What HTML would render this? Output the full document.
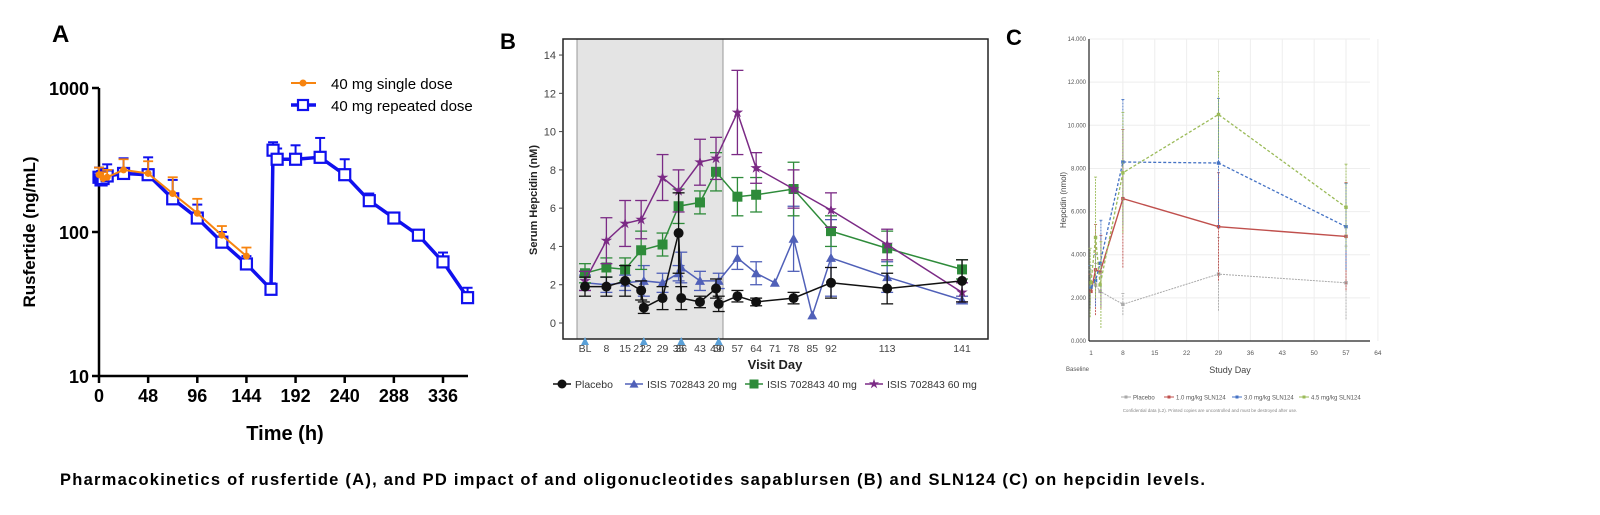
<!DOCTYPE html>
<html><head><meta charset="utf-8">
<style>
html,body{margin:0;padding:0;background:#fff;}
svg{display:block;font-family:"Liberation Sans",Arial,sans-serif;}
</style></head>
<body>
<svg id="fig" width="1600" height="515" viewBox="0 0 1600 515" xmlns="http://www.w3.org/2000/svg">
<g id="pa"></g>
<g id="pb"></g>
<g id="pc"></g>
<text x="60" y="485" font-size="16.5" font-weight="bold" fill="#000" textLength="1145" lengthAdjust="spacing">Pharmacokinetics of rusfertide (A), and PD impact of and oligonucleotides sapablursen (B) and SLN124 (C) on hepcidin levels.</text>
</svg>
<script>
// ---------- Panel A data ----------
const aTicksX = [0,48,96,144,192,240,288,336];
const aTicksY = [10,100,1000];
const aRepT = [0,2,4,8,24,48,72,96,120,144,168,170,174,192,216,240,264,288,312,336,360];
const aRepV = [240,230,235,245,255,250,170,125,85,60,40,370,320,320,330,250,165,125,95,62,35];
const aRepErr = [40,35,40,50,70,80,60,30,15,8,4,50,60,80,120,70,20,10,8,10,6];
const aSinT = [0,4,8,24,48,72,96,120,144];
const aSinV = [250,235,240,270,255,185,135,95,68];
const aSinErr = [30,25,30,50,55,55,35,15,10];
// ---------- Panel B data ----------
const bTickDays = [0,8,15,21,22,29,35,36,43,49,50,57,64,71,78,85,92,113,141];
const bTickLabels = ["BL","8","15","21","22","29","35","36","43","49","50","57","64","71","78","85","92","113","141"];
const bTicksY = [0,2,4,6,8,10,12,14];
const bDoseDays = [0,22,36,50];
const bPlaDays = [0,8,15,21,22,29,35,36,43,49,50,57,64,78,92,113,141];
const bPlaVals = [1.9,1.9,2.2,1.7,0.8,1.3,4.7,1.3,1.1,1.8,1.0,1.4,1.1,1.3,2.1,1.8,2.2];
const bPlaErr = [0.5,0.5,0.8,0.5,0.3,0.6,2.1,0.6,0.3,0.5,0.4,0.3,0.2,0.3,0.8,0.8,1.1];
const b20Days = [0,8,15,22,29,35,36,43,50,57,64,71,78,85,92,113,141];
const b20Vals = [2.1,2.0,2.1,2.2,2.1,2.6,2.9,2.2,2.2,3.4,2.6,2.1,4.4,0.4,3.4,2.4,1.2];
const b20Err = [0.4,0.4,0.4,0.8,0.5,0.4,0.8,0.5,0.4,0.6,0.6,0,1.7,0,2.0,0.8,0.2];
const b40Days = [0,8,15,21,29,35,43,49,57,64,78,92,113,141];
const b40Vals = [2.6,2.9,2.8,3.8,4.1,6.1,6.3,7.9,6.6,6.7,7.0,4.8,3.9,2.8];
const b40Err = [0.5,0.5,0.6,1.0,0.6,0.9,0.6,1.0,1.0,0.9,1.4,0.8,0.9,0.5];
const b60Days = [0,8,15,21,29,35,43,49,57,64,78,92,113,141];
const b60Vals = [2.2,4.3,5.2,5.4,7.6,6.9,8.4,8.6,11.0,8.1,7.0,5.9,4.1,1.6];
const b60Err = [0.5,1.2,1.2,1.0,1.2,1.1,1.2,1.1,2.2,0.8,1.0,0.9,0.8,0.5];
// ---------- Panel C data ----------
const cTicksX = [1,8,15,22,29,36,43,50,57,64];
const cTicksY = [0,2,4,6,8,10,12,14];
const cPlaDays = [1,2,3,8,29,57];
const cPlaVals = [2.5,2.6,2.3,1.7,3.1,2.7];
const cPlaErr = [0.8,1.0,0.7,0.5,1.7,1.7];
const c10Days = [1,2,3,8,29,57];
const c10Vals = [2.3,3.3,3.2,6.6,5.3,4.85];
const c10Err = [0.8,2.1,1.7,3.2,2.5,2.5];
const c30Days = [1,2,3,8,29,57];
const c30Vals = [2.5,2.8,3.6,8.3,8.25,5.3];
const c30Err = [1.0,1.2,2.0,2.9,3.0,2.0];
const c45Days = [1,2,3,8,29,57];
const c45Vals = [2.7,4.8,2.6,7.8,10.5,6.2];
const c45Err = [1.6,2.8,2.0,2.8,2.0,2.0];

const NS = "http://www.w3.org/2000/svg";
function mk(parent, tag, attrs, text){
  const e = document.createElementNS(NS, tag);
  for (const k in attrs) e.setAttribute(k, attrs[k]);
  if (text !== undefined) e.textContent = text;
  parent.appendChild(e);
  return e;
}
function linePath(xs, ys){ return xs.map((x,i)=>(i?"L":"M")+x.toFixed(1)+" "+ys[i].toFixed(1)).join(" "); }

// ================= PANEL A =================
const pa = document.getElementById('pa');
const aX = t => 99 + t*(344/336);
const aY = v => 376 - (Math.log10(v)-1)*144;
let el;
el = mk(pa,'text',{x:52,y:42,'font-size':24,'font-weight':'bold'},'A');


el = mk(pa,'line',{x1:99,y1:88,x2:99,y2:377,stroke:'#000','stroke-width':2.5});


el = mk(pa,'line',{x1:98,y1:376,x2:468,y2:376,stroke:'#000','stroke-width':2.5});


aTicksY.forEach(v=>{
  mk(pa,'line',{x1:92,y1:aY(v),x2:99,y2:aY(v),stroke:'#000','stroke-width':2.5});
  el = mk(pa,'text',{x:89,y:aY(v)+7,'font-size':18,'font-weight':'bold','text-anchor':'end'},String(v));
  
  
});
aTicksX.forEach(t=>{
  mk(pa,'line',{x1:aX(t),y1:376,x2:aX(t),y2:383,stroke:'#000','stroke-width':2.5});
  el = mk(pa,'text',{x:aX(t),y:402,'font-size':18,'font-weight':'bold','text-anchor':'middle'},String(t));
  
  
});
el = mk(pa,'text',{x:285,y:440,'font-size':20,'font-weight':'bold','text-anchor':'middle'},'Time  (h)');


el = mk(pa,'text',{x:0,y:0,'font-size':17,'font-weight':'bold','text-anchor':'middle',transform:'translate(35,232) rotate(-90)'},'Rusfertide (ng/mL)');


// repeated dose
el = mk(pa,'path',{d:linePath(aRepT.map(aX),aRepV.map(aY)),fill:'none',stroke:'#1010ee','stroke-width':3.5});


aRepT.forEach((t,i)=>{
  const x=aX(t), y=aY(aRepV[i]), ye=aY(aRepV[i]+aRepErr[i]);
  mk(pa,'line',{x1:x,y1:y,x2:x,y2:ye,stroke:'#1010ee','stroke-width':2});
  mk(pa,'line',{x1:x-5,y1:ye,x2:x+5,y2:ye,stroke:'#1010ee','stroke-width':2});
});
aRepT.forEach((t,i)=>{
  el = mk(pa,'rect',{x:aX(t)-5.5,y:aY(aRepV[i])-5.5,width:11,height:11,fill:'#fff',stroke:'#1010ee','stroke-width':2.2});
  
  
});
// single dose
el = mk(pa,'path',{d:linePath(aSinT.map(aX),aSinV.map(aY)),fill:'none',stroke:'#f7840f','stroke-width':2});


aSinT.forEach((t,i)=>{
  const x=aX(t), y=aY(aSinV[i]), ye=aY(aSinV[i]+aSinErr[i]);
  mk(pa,'line',{x1:x,y1:y,x2:x,y2:ye,stroke:'#f7840f','stroke-width':1.8});
  mk(pa,'line',{x1:x-5,y1:ye,x2:x+5,y2:ye,stroke:'#f7840f','stroke-width':1.8});
  el = mk(pa,'circle',{cx:x,cy:y,r:3.5,fill:'#f7840f'});
  
  
});
// legend
el = mk(pa,'g',{});


mk(el,'line',{x1:291,y1:83,x2:316,y2:83,stroke:'#f7840f','stroke-width':2});
mk(el,'circle',{cx:303,cy:83,r:3.5,fill:'#f7840f'});
mk(el,'text',{x:331,y:89,'font-size':15},'40 mg single dose');
mk(el,'line',{x1:291,y1:105,x2:316,y2:105,stroke:'#1010ee','stroke-width':3.5});
mk(el,'rect',{x:298,y:100,width:10,height:10,fill:'#fff',stroke:'#1010ee','stroke-width':2.2});
mk(el,'text',{x:331,y:111,'font-size':15},'40 mg repeated dose');

// ================= PANEL B =================
const pb = document.getElementById('pb');
const bX = d => 585 + d*2.674;
const bY = v => 323 - v*19.14;
el = mk(pb,'text',{x:500,y:49,'font-size':22,'font-weight':'bold'},'B');


el = mk(pb,'rect',{x:577,y:39,width:146,height:300,fill:'#e4e4e4',stroke:'#999','stroke-width':1});


el = mk(pb,'rect',{x:563,y:39,width:425,height:300,fill:'none',stroke:'#222','stroke-width':1.5});


bTicksY.forEach(v=>{
  mk(pb,'line',{x1:559,y1:bY(v),x2:563,y2:bY(v),stroke:'#444'});
  el = mk(pb,'text',{x:556,y:bY(v)+4,'font-size':11,fill:'#444','text-anchor':'end'},String(v));
  
  
});
bTickDays.forEach((d,i)=>{
  let x = bX(d);
  if (bTickLabels[i]==="21") x -= 2;
  if (bTickLabels[i]==="22") x += 2;
  el = mk(pb,'text',{x:x,y:352,'font-size':10.5,fill:'#444','text-anchor':'middle'},bTickLabels[i]);
  
  
});
bDoseDays.forEach(d=>{
  el = mk(pb,'path',{d:`M${bX(d)-4} 345 L${bX(d)+4} 345 L${bX(d)} 337 Z`,fill:'#5aa0d8'});
  
  
});
el = mk(pb,'text',{x:775,y:369,'font-size':13,'font-weight':'bold','text-anchor':'middle',fill:'#222'},'Visit Day');


el = mk(pb,'text',{x:0,y:0,'font-size':11,'font-weight':'bold','text-anchor':'middle',fill:'#222',transform:'translate(537,200) rotate(-90)'},'Serum Hepcidin (nM)');


function marker(g,type,x,y,col,s){
  if(type==='circle') return mk(g,'circle',{cx:x,cy:y,r:s,fill:col});
  if(type==='tri') return mk(g,'path',{d:`M${x-s} ${y+s*0.8} L${x+s} ${y+s*0.8} L${x} ${y-s} Z`,fill:col});
  if(type==='square') return mk(g,'rect',{x:x-s,y:y-s,width:2*s,height:2*s,fill:col});
  if(type==='star'){
    let d='';for(let k=0;k<10;k++){const r=k%2?s*0.45:s*1.2;const a=-Math.PI/2+k*Math.PI/5;d+=(k?'L':'M')+(x+r*Math.cos(a)).toFixed(1)+' '+(y+r*Math.sin(a)).toFixed(1);}
    return mk(g,'path',{d:d+'Z',fill:col});
  }
}
function bSeries(name,days,vals,errs,col,type){
  const g = mk(pb,'g',{});
  
  
  mk(g,'path',{d:linePath(days.map(bX),vals.map(bY)),fill:'none',stroke:col,'stroke-width':1.5});
  days.forEach((d,i)=>{
    const x=bX(d), e=errs[i];
    if(e>0){
      mk(g,'line',{x1:x,y1:bY(vals[i]-e),x2:x,y2:bY(vals[i]+e),stroke:col,'stroke-width':1.3});
      mk(g,'line',{x1:x-6,y1:bY(vals[i]-e),x2:x+6,y2:bY(vals[i]-e),stroke:col,'stroke-width':1.3});
      mk(g,'line',{x1:x-6,y1:bY(vals[i]+e),x2:x+6,y2:bY(vals[i]+e),stroke:col,'stroke-width':1.3});
    }
  });
  days.forEach((d,i)=>{
    const m = marker(g,type,bX(d),bY(vals[i]),col,5);
    
    
  });
}
bSeries('b-series-20mg',b20Days,b20Vals,b20Err,'#5060b8','tri');
bSeries('b-series-40mg',b40Days,b40Vals,b40Err,'#2e8b3a','square');
bSeries('b-series-60mg',b60Days,b60Vals,b60Err,'#7b2a85','star');
bSeries('b-series-placebo',bPlaDays,bPlaVals,bPlaErr,'#111','circle');
const bLeg = [['Placebo','#111','circle',562],['ISIS 702843 20 mg','#5060b8','tri',634],['ISIS 702843 40 mg','#2e8b3a','square',754],['ISIS 702843 60 mg','#7b2a85','star',874]];
bLeg.forEach(l=>{
  const g = mk(pb,'g',{});
  
  
  mk(g,'line',{x1:l[3]-9,y1:384,x2:l[3]+9,y2:384,stroke:l[1],'stroke-width':1.5});
  marker(g,l[2],l[3],384,l[1],4.5);
  mk(g,'text',{x:l[3]+13,y:388,'font-size':10.5,fill:'#333'},l[0]);
});

// ================= PANEL C =================
const pc = document.getElementById('pc');
const cX = d => 1091 + (d-1)*4.554;
const cY = v => 341 - v*21.57;
el = mk(pc,'text',{x:1006,y:45,'font-size':22,'font-weight':'bold'},'C');


cTicksY.forEach(v=>{
  if(v>0) mk(pc,'line',{x1:1089,y1:cY(v),x2:1370,y2:cY(v),stroke:'#eee','stroke-width':1});
  el = mk(pc,'text',{x:1086,y:cY(v)+2,'font-size':6,fill:'#555','text-anchor':'end'},v.toFixed(3));
  
  
});
cTicksX.forEach(d=>{
  if(d>1) mk(pc,'line',{x1:cX(d),y1:39,x2:cX(d),y2:341,stroke:'#eee','stroke-width':1});
  el = mk(pc,'text',{x:cX(d),y:355,'font-size':6.5,fill:'#555','text-anchor':'middle'},String(d));
  
  
});
el = mk(pc,'line',{x1:1089,y1:39,x2:1089,y2:341,stroke:'#222','stroke-width':1.2});


el = mk(pc,'line',{x1:1089,y1:341,x2:1370,y2:341,stroke:'#222','stroke-width':1.2});


el = mk(pc,'text',{x:1066,y:371,'font-size':6,fill:'#555'},'Baseline');


el = mk(pc,'text',{x:1230,y:373,'font-size':9,fill:'#444','text-anchor':'middle'},'Study Day');


el = mk(pc,'text',{x:0,y:0,'font-size':8,fill:'#444','text-anchor':'middle',transform:'translate(1066,200) rotate(-90)'},'Hepcidin (nmol)');


function cSeries(name,days,vals,errs,col,dash,w){
  const g = mk(pc,'g',{});
  
  
  days.forEach((d,i)=>{
    const x=cX(d)+ (i<3? (i-1)*0.8:0);
    mk(g,'line',{x1:x,y1:cY(vals[i]-errs[i]),x2:x,y2:cY(vals[i]+errs[i]),stroke:col,'stroke-width':0.9,'stroke-dasharray':'2 1'});
    mk(g,'line',{x1:x-1.5,y1:cY(vals[i]+errs[i]),x2:x+1.5,y2:cY(vals[i]+errs[i]),stroke:col,'stroke-width':0.8});
  });
  mk(g,'path',{d:linePath(days.map(cX),vals.map(cY)),fill:'none',stroke:col,'stroke-width':w,'stroke-dasharray':dash});
  days.forEach((d,i)=>{
    const m = mk(g,'rect',{x:cX(d)-1.7,y:cY(vals[i])-1.7,width:3.4,height:3.4,fill:col});
    
    
  });
}
cSeries('c-series-placebo',cPlaDays,cPlaVals,cPlaErr,'#aaaaaa','2 1',1);
cSeries('c-series-1mg',c10Days,c10Vals,c10Err,'#c0504d','none',1.4);
cSeries('c-series-3mg',c30Days,c30Vals,c30Err,'#4472c4','3 2',1.3);
cSeries('c-series-4_5mg',c45Days,c45Vals,c45Err,'#9bbb59','3 2',1.3);
const cLeg = [['Placebo','#aaaaaa',1121],['1.0 mg/kg SLN124','#c0504d',1164],['3.0 mg/kg SLN124','#4472c4',1232],['4.5 mg/kg SLN124','#9bbb59',1299]];
cLeg.forEach(l=>{
  const g = mk(pc,'g',{});
  
  
  mk(g,'line',{x1:l[2],y1:397,x2:l[2]+10,y2:397,stroke:l[1],'stroke-width':1});
  mk(g,'rect',{x:l[2]+3.5,y:395.5,width:3,height:3,fill:l[1]});
  mk(g,'text',{x:l[2]+12,y:399.5,'font-size':6,fill:'#555'},l[0]);
});
el = mk(pc,'text',{x:1210,y:412,'font-size':4.5,fill:'#888','text-anchor':'middle'},'Confidential data (L2). Printed copies are uncontrolled and must be destroyed after use.');


</script>
</body></html>
